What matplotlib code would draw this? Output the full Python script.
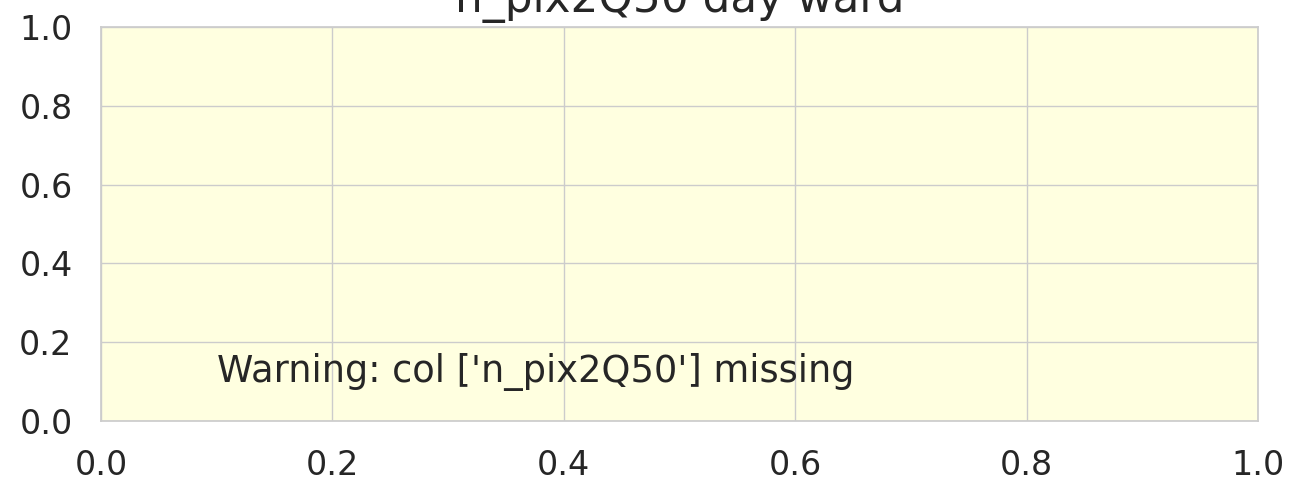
import matplotlib
matplotlib.use("Agg")
import matplotlib.pyplot as plt
import seaborn as sns

title = "n_pix2Q50 day ward"
missing_cols = ["n_pix2Q50"]
xlim = (0.0, 1.0)
ylim = (0.0, 1.0)

sns.set_theme(style="whitegrid")
plt.rcParams['font.family'] = ['DejaVu Sans']

fig = plt.figure(figsize=(12.92, 4.83), dpi=100)
ax = fig.add_axes([0.0782, 0.1284, 0.8955, 0.8156])
ax.set_facecolor("lightyellow")
ax.set_xlim(*xlim)
ax.set_ylim(*ylim)
ax.tick_params(axis="both", labelsize=24, pad=14.5)
ax.set_title(title, fontsize=31.5, pad=11)
ax.text(0.1, 0.1, f"Warning: col {missing_cols} missing", transform=ax.transAxes, fontsize=26.5)

fig.savefig("out.png", dpi=100)
